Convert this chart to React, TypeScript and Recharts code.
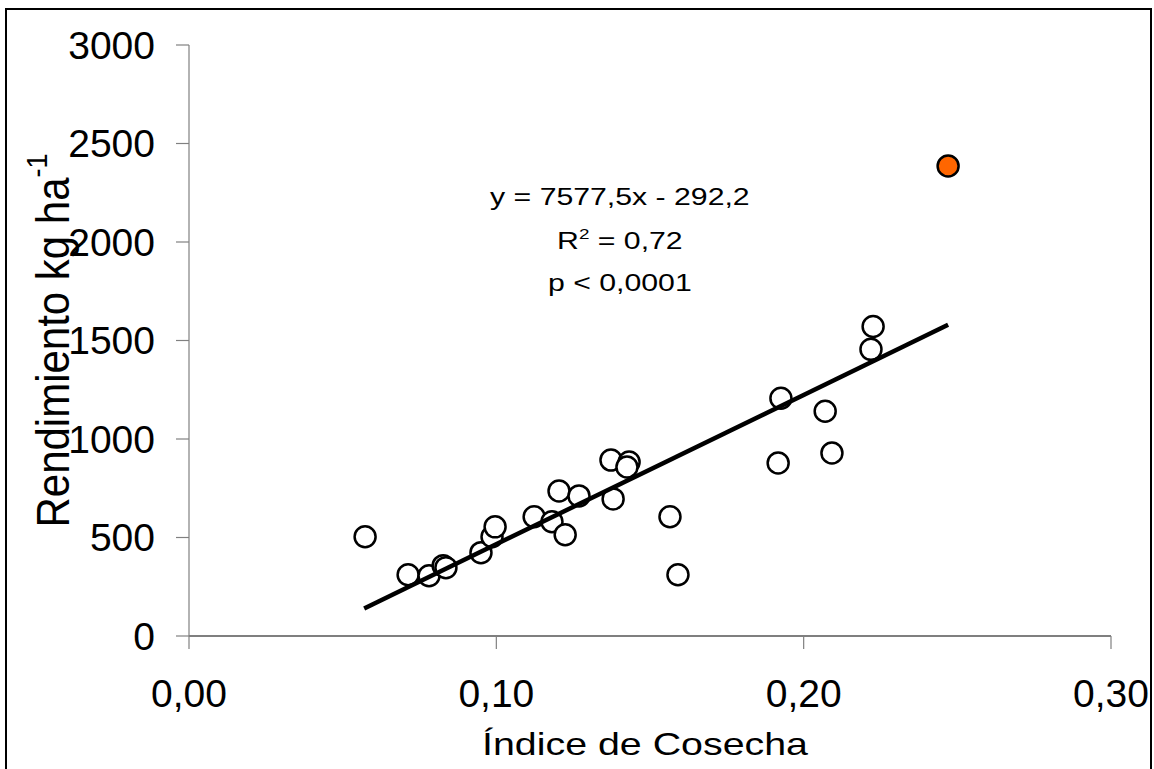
import React from 'react';
import {
  ScatterChart,
  Scatter,
  XAxis,
  YAxis,
  ReferenceDot,
} from 'recharts';

// Índice de cosecha (x) vs rendimiento kg/ha (y)
const indice = [
  0.0573, 0.0713, 0.0781, 0.0827, 0.0836, 0.095, 0.0986, 0.0996, 0.1123,
  0.1181, 0.1224, 0.1204, 0.1269, 0.138, 0.1373, 0.1432, 0.1425, 0.1565,
  0.1591, 0.1926, 0.207, 0.1917, 0.2092, 0.2226, 0.2219,
];
const rendimiento = [
  504, 311, 306, 357, 347, 423, 504, 554, 605, 580, 514, 736, 711, 696, 893,
  883, 858, 605, 311, 1207, 1141, 878, 929, 1571, 1455,
];

// highlighted plot (orange)
const destacadoX = [0.247];
const destacadoY = [2386];

// regression line end points
const tendenciaX = [0.057, 0.247];
const tendenciaY = [140, 1580];

const xTicks = [0, 0.1, 0.2, 0.3];
const yTicks = [0, 500, 1000, 1500, 2000, 2500, 3000];

const ecuacion = ['y = 7577,5x - 292,2', '0,72', 'p < 0,0001'];

const puntos = indice.map((x, i) => ({ x, y: rendimiento[i] }));
const destacado = destacadoX.map((x, i) => ({ x, y: destacadoY[i] }));
const tendencia = tendenciaX.map((x, i) => ({ x, y: tendenciaY[i] }));

const FONT = "'Liberation Sans', Arial, sans-serif";

const Circulo = (props: any) => (
  <circle
    cx={props.cx}
    cy={props.cy}
    r={10.5}
    fill={props.fill}
    stroke="#000"
    strokeWidth={2.5}
  />
);

const XTitle = (props: any) => {
  const vb = props.viewBox || { x: 189, y: 636, width: 922, height: 133 };
  const cx = vb.x + vb.width / 2 - 5;
  return (
    <g transform={`translate(${cx}, ${vb.y + 119}) scale(1.23, 1)`}>
      <text x={0} y={0} textAnchor="middle" fontSize={32} fontFamily={FONT} fill="#000">
        Índice de Cosecha
      </text>
    </g>
  );
};

const YTitle = (props: any) => {
  const vb = props.viewBox || { x: 0, y: 45, width: 189, height: 591 };
  const cy = vb.y + vb.height / 2;
  return (
    <g transform={`translate(69, ${cy}) scale(1.1, 1) rotate(-90)`}>
      <text x={0} y={0} textAnchor="middle" fontSize={42} fontFamily={FONT} fill="#000">
        Rendimiento kg ha
        <tspan fontSize={27} dy={-20}>-1</tspan>
      </text>
    </g>
  );
};

const Anotacion = (props: any) => {
  const vb = props.viewBox || { x: 619, y: 205 };
  return (
    <g transform={`translate(${vb.x}, ${vb.y}) scale(1.26, 1)`}>
      <text textAnchor="middle" fontSize={24} fontFamily={FONT} fill="#000">
        <tspan x={0} y={0}>{ecuacion[0]}</tspan>
        <tspan x={0} y={44}>R</tspan>
        <tspan fontSize={15} dy={-10}>2</tspan>
        <tspan dy={10}>{' = ' + ecuacion[1]}</tspan>
        <tspan x={0} y={86}>{ecuacion[2]}</tspan>
      </text>
    </g>
  );
};

export default function App() {
  return (
    <div
      style={{
        position: 'fixed',
        left: 0,
        top: 0,
        width: 1154,
        height: 769,
        overflow: 'hidden',
        background: '#fff',
      }}
    >
      <div style={{ position: 'absolute', left: 0, top: 0 }}>
        <ScatterChart
          width={1154}
          height={769}
          margin={{ top: 45, right: 43, bottom: 0, left: 0 }}
        >
          <XAxis
            type="number"
            dataKey="x"
            domain={[0, 0.3]}
            ticks={xTicks}
            interval={0}
            height={133}
            tickFormatter={(v: number) => v.toFixed(2).replace('.', ',')}
            axisLine={{ stroke: '#000', strokeWidth: 1.2 }}
            tickLine={{ stroke: '#808080', strokeWidth: 1.2 }}
            tickSize={13}
            tickMargin={30}
            tick={{ fontSize: 39, fill: '#000', fontFamily: FONT }}
            label={(p: any) => <XTitle {...p} />}
          />
          <YAxis
            type="number"
            dataKey="y"
            domain={[0, 3000]}
            ticks={yTicks}
            interval={0}
            width={189}
            axisLine={{ stroke: '#808080', strokeWidth: 1.2 }}
            tickLine={{ stroke: '#808080', strokeWidth: 1.2 }}
            tickSize={13}
            tickMargin={21}
            tick={{ fontSize: 39, fill: '#000', fontFamily: FONT }}
            label={(p: any) => <YTitle {...p} />}
          />
          <Scatter
            data={puntos}
            fill="#fff"
            shape={<Circulo />}
            isAnimationActive={false}
          />
          <Scatter
            data={destacado}
            fill="#ff6600"
            shape={<Circulo />}
            isAnimationActive={false}
          />
          <Scatter
            data={tendencia}
            line={{ stroke: '#000', strokeWidth: 4.5 }}
            shape={() => <g />}
            isAnimationActive={false}
          />
          <ReferenceDot
            x={0.1402}
            y={2188}
            r={0}
            fill="none"
            stroke="none"
            label={(p: any) => <Anotacion {...p} />}
          />
        </ScatterChart>
      </div>
      <div
        style={{
          position: 'absolute',
          left: 5,
          top: 8,
          width: 1147,
          height: 800,
          border: '2px solid #000',
          borderBottom: 'none',
          boxSizing: 'border-box',
          pointerEvents: 'none',
        }}
      />
    </div>
  );
}
